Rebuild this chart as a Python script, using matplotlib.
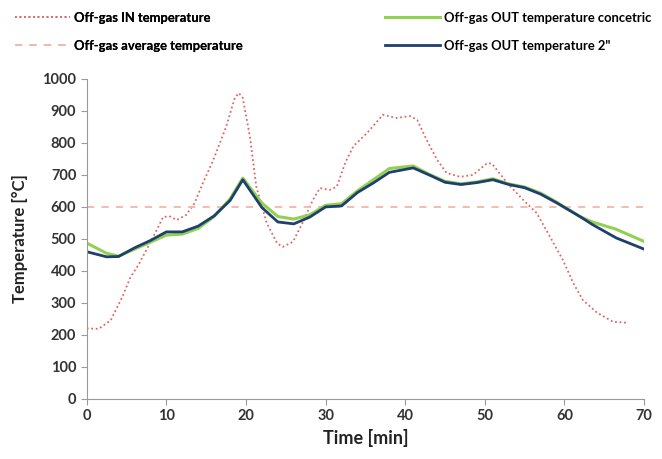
import numpy as np
import matplotlib.pyplot as plt

plt.rcParams['font.family'] = ['Lato', 'DejaVu Sans']

# Off-gas IN temperature (red dotted)
t_in = [0, 1.5, 3, 4.5, 5.5, 6.5, 7.5, 8.8, 9.6, 10.5, 11.3, 12.5, 13.5, 14.6, 15.9, 17.5,
        18.6, 19.1, 19.6, 20.5, 21.3, 22.6, 23.9, 24.6, 25.9, 27.1, 28.4, 29.3, 30.5,
        31.4, 32.5, 33.5, 35.2, 37.2, 38.9, 40.6, 41.5, 42.7, 44.0, 45.2, 46.9, 48.5,
        50.3, 50.9, 52.8, 54.8, 56.5, 58.2, 59.8, 61.1, 62.3, 64.1, 66.1, 67.8]
T_in = [220, 219, 245, 320, 381, 419, 466, 528, 569, 570, 559, 575, 610, 675, 747, 850,
        941, 956, 941, 819, 663, 550, 487, 475, 491, 550, 622, 659, 653,
        663, 740, 790, 831, 888, 878, 884, 872, 809, 747, 706, 694, 700,
        737, 735, 675, 622, 581, 506, 434, 362, 309, 269, 241, 238]

# Off-gas OUT temperatures
t_out = [0, 2.5, 4, 6, 8, 10, 12, 14, 16, 18, 19.6, 22, 24, 26, 28, 30, 32, 34, 36, 38,
         41, 43, 45, 47, 49, 51, 53, 55, 57, 59, 62, 63.5, 66.5, 70]
T_conc = [487, 455, 446, 468, 490, 512, 515, 533, 570, 625, 690, 612, 570, 562, 575, 605,
          610, 650, 685, 720, 728, 702, 680, 672, 678, 688, 672, 662, 643, 615, 569, 553,
          530, 492]
T_2in = [460, 444, 445, 472, 495, 522, 522, 540, 572, 620, 685, 598, 553, 547, 568, 600,
         603, 645, 675, 708, 722, 700, 677, 670, 676, 685, 670, 660, 640, 613, 569, 545,
         503, 468]

t_avg = [0, 70]
T_avg = [600, 600]

fig = plt.figure(figsize=(6.62, 4.59), dpi=100)
ax = fig.add_axes([0.131, 0.131, 0.842, 0.697])

l_in, = ax.plot(t_in, T_in, color='#e06666', lw=1.3, ls=(0, (1, 1.5)), label='Off-gas IN temperature')
l_avg, = ax.plot(t_avg, T_avg, color='#f2b8a8', lw=1.3, ls=(0, (4, 4)), label='Off-gas average temperature')
l_conc, = ax.plot(t_out, T_conc, color='#92d050', lw=2.2, label='Off-gas OUT temperature concetric')
l_2in, = ax.plot(t_out, T_2in, color='#1f3f6e', lw=2.0, label='Off-gas OUT temperature 2"')

ax.set_xlim(0, 70)
ax.set_ylim(0, 1000)
ax.set_xticks(np.arange(0, 71, 10))
ax.set_yticks(np.arange(0, 1001, 100))
for s in ['top', 'right']:
    ax.spines[s].set_visible(False)
for s in ['left', 'bottom']:
    ax.spines[s].set_color('#999999')
ax.tick_params(colors='#999999', labelcolor='#333333', labelsize=10.5, length=4)
for lab in ax.get_xticklabels() + ax.get_yticklabels():
    lab.set_fontweight('bold')

ax.set_xlabel('Time [min]', fontsize=13, fontweight='bold', color='#222222', labelpad=4)
ax.set_ylabel('Temperature [°C]', fontsize=12, fontweight='bold', color='#222222', labelpad=10)

lp = dict(ncol=1, frameon=False, prop={'weight': 'bold', 'size': 9.4}, borderpad=0,
          borderaxespad=0, handlelength=4.2, handletextpad=0.35, labelspacing=1.2)
leg1 = fig.legend(handles=[l_in, l_avg], loc='upper left', bbox_to_anchor=(15 / 662, 1 - 12 / 459), **lp)
fig.add_artist(leg1)
fig.legend(handles=[l_conc, l_2in], loc='upper left', bbox_to_anchor=(385 / 662, 1 - 12 / 459), **lp)

fig.savefig('out.png', dpi=100)
